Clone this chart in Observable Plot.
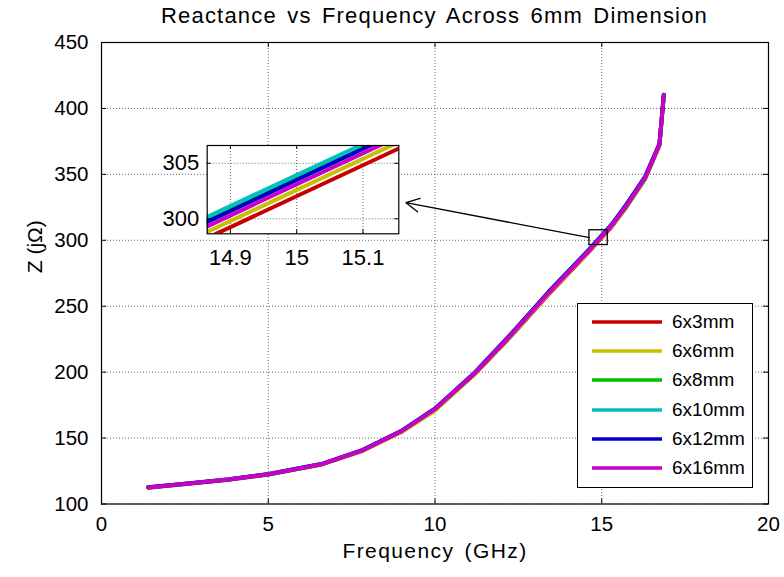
<!DOCTYPE html>
<html>
<head>
<meta charset="utf-8">
<script src="https://cdn.jsdelivr.net/npm/d3@7"></script>
<script src="https://cdn.jsdelivr.net/npm/@observablehq/plot@0.6"></script>
<style>
  body { margin: 0; background: #fff; }
  #wrap { position: relative; width: 784px; height: 577px; background: #fff; font-family: "Liberation Sans", Arial, sans-serif; overflow: hidden; }
  #title { position: absolute; left: 101px; width: 667px; top: 5px; line-height: 22px; font-size: 22px; text-align: center; letter-spacing: 1.2px; word-spacing: 3px; color: #000; white-space: nowrap; }
  #main { position: absolute; left: 0; top: 32px; }
  #inset { position: absolute; left: 150px; top: 130px; }
  #legend { position: absolute; left: 577px; top: 303px; width: 174px; height: 183px; border: 1px solid #000; background: #fff; }
  .lg-row { position: absolute; left: 0; height: 24px; width: 174px; }
  .lg-row svg { position: absolute; left: 14px; top: 10px; }
  .lg-row span { position: absolute; left: 94px; top: 0; font-size: 19px; line-height: 24px; color: #000; white-space: nowrap; }
</style>
</head>
<body>
<div id="wrap">
  <div id="title"></div>
  <div id="main"></div>
  <div id="inset"></div>
  <div id="legend"></div>
</div>
<script>
// ---------- data ----------
const titleText = "Reactance vs Frequency Across 6mm Dimension";
const xLabel = "Frequency (GHz)";
const yLabel = "Z (jΩ)";

const seriesNames  = ["6x3mm", "6x6mm", "6x8mm", "6x10mm", "6x12mm", "6x16mm"];
const seriesColors = ["#c80000", "#c8c000", "#00c000", "#00c0c0", "#0000c8", "#c800c8"];

const freqGHz = [1.4, 2.6, 3.8, 5.0, 6.6, 7.8, 9.0, 10.0, 11.2, 12.3, 13.4, 14.5, 15.3, 15.7, 16.3, 16.73, 16.86];

const z6x3  = [112.4, 115.3, 118.3, 122.4, 130.0, 140.1, 154.9, 171.4, 198.6, 227.8, 258.7, 288.1, 310.4, 323.8, 346.6, 372.0, 409.5];
const z6x6  = [112.5, 115.4, 118.4, 122.4, 130.0, 140.0, 154.6, 170.6, 198.8, 228.3, 259.4, 288.6, 311.0, 324.4, 347.0, 372.3, 409.8];
const z6x8  = [112.6, 115.6, 118.6, 122.6, 130.3, 140.5, 155.4, 172.2, 199.4, 228.6, 260.4, 289.7, 311.9, 324.5, 346.8, 372.4, 409.9];
const z6x10 = [112.7, 115.6, 118.7, 122.7, 130.4, 140.7, 155.6, 172.4, 200.0, 229.6, 260.8, 290.0, 312.3, 325.6, 348.0, 373.0, 410.2];
const z6x12 = [112.7, 115.6, 118.6, 122.6, 130.3, 140.6, 155.5, 172.3, 199.8, 229.5, 260.6, 289.5, 311.9, 325.8, 348.3, 373.2, 410.3];
const z6x16 = [112.6, 115.5, 118.5, 122.6, 130.2, 140.4, 155.3, 172.0, 199.5, 229.0, 260.0, 289.1, 311.5, 325.0, 347.5, 372.7, 410.0];

const xTicks = [0, 5, 10, 15, 20];
const yTicks = [100, 150, 200, 250, 300, 350, 400, 450];
const xDomain = [0, 20];
const yDomain = [100, 450];

const insetXTicks = [14.9, 15, 15.1];
const insetYTicks = [300, 305];
const insetXDomain = [14.865, 15.154];
const insetYDomain = [298.65, 306.6];

const zoomBoxX = [14.63, 15.18];
const zoomBoxY = [296.4, 307.6];
const arrowFrom = [14.63, 302.0];
const arrowTo = [9.13, 328.5];

// ---------- build table ----------
const zSeries = [z6x3, z6x6, z6x8, z6x10, z6x12, z6x16];
const rows = seriesNames.flatMap((name, i) => freqGHz.map((f, j) => ({series: name, f, z: zSeries[i][j]})));

const FONT = "'Liberation Sans', Arial, sans-serif";
const gridStyle = {stroke: "#666", strokeOpacity: 1, strokeWidth: 1, strokeDasharray: "1,2"};
const fmt = d => `${d}`;

document.getElementById("title").textContent = titleText;

// ---------- main plot ----------
const W = 784, H = 545, mL = 101, mR = 16, mT = 10, mB = 73.5;
const innerW = W - mL - mR, innerH = H - mT - mB;
const tk = 5;

const main = Plot.plot({
  width: W, height: H,
  marginLeft: mL, marginRight: mR, marginTop: mT, marginBottom: mB,
  x: {domain: xDomain},
  y: {domain: yDomain},
  color: {domain: seriesNames, range: seriesColors},
  style: {fontFamily: FONT, background: "transparent", overflow: "visible", color: "#000"},
  marks: [
    Plot.gridX(xTicks, gridStyle),
    Plot.gridY(yTicks, gridStyle),
    Plot.line(rows, {x: "f", y: "z", z: "series", stroke: "series", strokeWidth: 4, strokeLinejoin: "round", clip: true}),
    Plot.rect([{x1: zoomBoxX[0], x2: zoomBoxX[1], y1: zoomBoxY[0], y2: zoomBoxY[1]}],
      {x1: "x1", x2: "x2", y1: "y1", y2: "y2", fill: "none", stroke: "#000", strokeWidth: 1.3}),
    Plot.arrow([{x1: arrowFrom[0], y1: arrowFrom[1], x2: arrowTo[0], y2: arrowTo[1]}],
      {x1: "x1", y1: "y1", x2: "x2", y2: "y2", stroke: "#000", strokeWidth: 1.3, headLength: 17, headAngle: 55, insetStart: 0, insetEnd: 0}),
    Plot.frame({stroke: "#000", strokeWidth: 1.2}),
    Plot.tickX(xTicks, {x: d => d, insetTop: innerH - tk, stroke: "#000"}),
    Plot.tickX(xTicks, {x: d => d, insetBottom: innerH - tk, stroke: "#000"}),
    Plot.tickY(yTicks, {y: d => d, insetRight: innerW - tk, stroke: "#000"}),
    Plot.tickY(yTicks, {y: d => d, insetLeft: innerW - tk, stroke: "#000"}),
    Plot.axisX(xTicks, {tickSize: 0, tickPadding: 12, fontSize: 20.5, label: null, tickFormat: fmt}),
    Plot.axisY(yTicks, {tickSize: 0, tickPadding: 13, fontSize: 20.5, label: null, tickFormat: fmt}),
    Plot.text([xLabel], {text: d => d, frameAnchor: "bottom", dy: 53.5, fontSize: 21}),
    Plot.text([yLabel], {text: d => d, frameAnchor: "left", dx: -66, rotate: -90, fontSize: 21})
  ]
});
d3.select(main).selectAll("text")
  .filter(function() { return this.textContent === xLabel; })
  .attr("letter-spacing", "1.4px").attr("word-spacing", "3px");
document.getElementById("main").appendChild(main);

// ---------- inset plot ----------
const iW = 260, iH = 145, imL = 56.7, imT = 15, imR = 11.7, imB = 41.7;
const iInnerW = iW - imL - imR, iInnerH = iH - imT - imB;
const itk = 4;
const inset = Plot.plot({
  width: iW, height: iH,
  marginLeft: imL, marginRight: imR, marginTop: imT, marginBottom: imB,
  x: {domain: insetXDomain},
  y: {domain: insetYDomain},
  color: {domain: seriesNames, range: seriesColors},
  style: {fontFamily: FONT, background: "transparent", overflow: "visible", color: "#000"},
  marks: [
    Plot.frame({fill: "#fff", stroke: "none"}),
    Plot.gridX(insetXTicks, gridStyle),
    Plot.gridY(insetYTicks, gridStyle),
    Plot.line(rows, {x: "f", y: "z", z: "series", stroke: "series", strokeWidth: 4, clip: true}),
    Plot.frame({stroke: "#000", strokeWidth: 1.2}),
    Plot.tickX(insetXTicks, {x: d => d, insetTop: iInnerH - itk, stroke: "#000"}),
    Plot.tickX(insetXTicks, {x: d => d, insetBottom: iInnerH - itk, stroke: "#000"}),
    Plot.tickY(insetYTicks, {y: d => d, insetRight: iInnerW - itk, stroke: "#000"}),
    Plot.tickY(insetYTicks, {y: d => d, insetLeft: iInnerW - itk, stroke: "#000"}),
    Plot.axisX(insetXTicks, {tickSize: 0, tickPadding: 16, fontSize: 22, label: null, tickFormat: fmt}),
    Plot.axisY(insetYTicks, {tickSize: 0, tickPadding: 8, fontSize: 22, label: null, tickFormat: fmt})
  ]
});
document.getElementById("inset").appendChild(inset);

// ---------- legend ----------
const legend = document.getElementById("legend");
const rowTops = [5.5, 35, 64.3, 93.6, 122.9, 152.2];
seriesNames.forEach((name, i) => {
  const row = document.createElement("div");
  row.className = "lg-row";
  row.style.top = rowTops[i] + "px";
  row.innerHTML = `<svg width="70" height="4"><line x1="0" y1="2" x2="70" y2="2" stroke="${seriesColors[i]}" stroke-width="3.5"/></svg><span>${name}</span>`;
  legend.appendChild(row);
});
</script>
</body>
</html>
